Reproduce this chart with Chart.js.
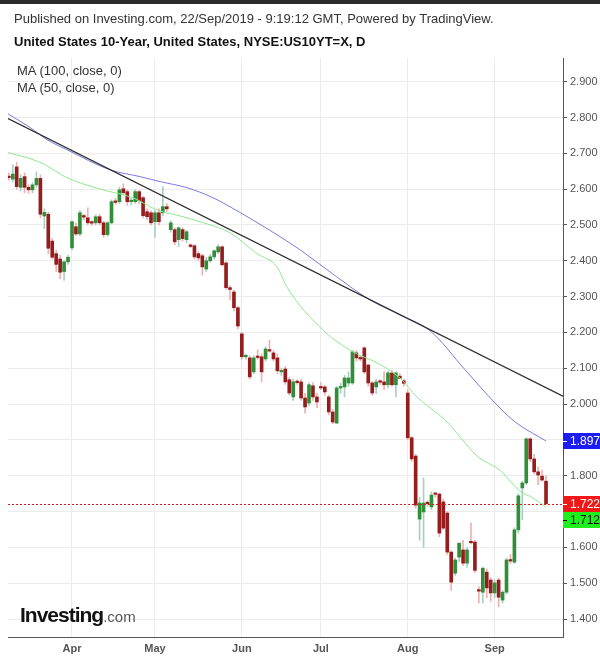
<!DOCTYPE html>
<html>
<head>
<meta charset="utf-8">
<script src="https://cdn.jsdelivr.net/npm/chart.js@4.4.0/dist/chart.umd.min.js"></script>
<style>
  html, body { margin: 0; padding: 0; background: #fff; }
  #wrap { position: relative; width: 600px; height: 660px; overflow: hidden; font-family: Arial, "Liberation Sans", sans-serif; }
  #c { position: absolute; left: 0; top: 0; }
  #topbar { position: absolute; left: 0; top: 0; width: 600px; height: 4px; background: #2b2b2b; }
  .txt { position: absolute; white-space: nowrap; line-height: 1; }
  #pub { left: 14px; top: 12px; font-size: 13px; color: #333; }
  #title { left: 14px; top: 35px; font-size: 13px; font-weight: bold; color: #111; }
  #ma100 { left: 17px; top: 64px; font-size: 13px; color: #333; }
  #ma50 { left: 17px; top: 81px; font-size: 13px; color: #333; }
  #logo { left: 20px; top: 604px; font-size: 21px; font-weight: bold; color: #111; letter-spacing: -1px; }
  #logo span { font-size: 15px; font-weight: normal; color: #555; letter-spacing: 0; }
</style>
</head>
<body>
<div id="wrap">
  <canvas id="c" width="600" height="660"></canvas>
  <div id="topbar"></div>
  <div class="txt" id="pub">Published on Investing.com, 22/Sep/2019 - 9:19:12 GMT, Powered by TradingView.</div>
  <div class="txt" id="title">United States 10-Year, United States, NYSE:US10YT=X, D</div>
  <div class="txt" id="ma100">MA (100, close, 0)</div>
  <div class="txt" id="ma50">MA (50, close, 0)</div>
  <div class="txt" id="logo">Investing<span>.com</span></div>
</div>
<script>
// trading days from 8 Mar 2019 to 20 Sep 2019, index 0..136
const monthStarts = [16, 37, 59, 79, 101, 123];
const monthLabels = ["Apr", "May", "Jun", "Jul", "Aug", "Sep"];
const yTicks = [1.4, 1.5, 1.6, 1.7, 1.8, 1.9, 2.0, 2.1, 2.2, 2.3, 2.4, 2.5, 2.6, 2.7, 2.8, 2.9];

const opens = [
  2.635, 2.628, 2.662, 2.605, 2.635, 2.605, 2.598, 2.612, 2.630, 2.525, 2.530, 2.455, 2.420, 2.405, 2.370, 2.397,
  2.436, 2.495, 2.475, 2.525, 2.520, 2.506, 2.506, 2.523, 2.506, 2.473, 2.506, 2.565, 2.565, 2.601, 2.593, 2.565, 2.565, 2.593, 2.576, 2.537, 2.534,
  2.509, 2.534, 2.534, 2.551, 2.487, 2.487, 2.459, 2.487, 2.459, 2.442, 2.442, 2.420, 2.414, 2.377, 2.400, 2.411, 2.425, 2.439, 2.394, 2.325, 2.313, 2.269,
  2.196, 2.132, 2.129, 2.090, 2.132, 2.132, 2.126, 2.150, 2.143, 2.129, 2.090, 2.098, 2.068, 2.020, 2.062, 2.062, 2.017, 2.003, 2.051, 2.020,
  2.048, 2.048, 2.020, 1.978, 1.947, 2.045, 2.048, 2.059, 2.059, 2.143, 2.129, 2.157, 2.109, 2.059, 2.048, 2.062, 2.062, 2.054, 2.087, 2.054, 2.078, 2.065,
  2.031, 1.906, 1.855, 1.679, 1.699, 1.724, 1.713, 1.749, 1.749, 1.727, 1.696, 1.587, 1.528, 1.573, 1.593, 1.556, 1.615, 1.615, 1.481, 1.475, 1.531, 1.509,
  1.473, 1.509, 1.453, 1.475, 1.565, 1.559, 1.649, 1.766, 1.780, 1.903, 1.847, 1.811, 1.799, 1.785
];
const highs = [
  2.645, 2.668, 2.675, 2.640, 2.645, 2.612, 2.618, 2.648, 2.640, 2.545, 2.535, 2.462, 2.430, 2.415, 2.400, 2.415,
  2.512, 2.505, 2.540, 2.530, 2.548, 2.512, 2.528, 2.530, 2.510, 2.510, 2.570, 2.575, 2.605, 2.615, 2.598, 2.575, 2.598, 2.596, 2.580, 2.545, 2.540,
  2.540, 2.545, 2.607, 2.560, 2.512, 2.492, 2.495, 2.492, 2.485, 2.448, 2.445, 2.425, 2.418, 2.410, 2.418, 2.430, 2.445, 2.442, 2.398, 2.330, 2.318, 2.272,
  2.200, 2.140, 2.135, 2.135, 2.151, 2.140, 2.160, 2.179, 2.150, 2.140, 2.100, 2.105, 2.075, 2.070, 2.068, 2.070, 2.030, 2.060, 2.060, 2.030,
  2.060, 2.052, 2.025, 1.985, 2.050, 2.058, 2.080, 2.090, 2.150, 2.150, 2.135, 2.160, 2.112, 2.063, 2.070, 2.068, 2.090, 2.092, 2.095, 2.090, 2.085, 2.070,
  2.040, 1.910, 1.860, 1.740, 1.794, 1.730, 1.755, 1.752, 1.752, 1.735, 1.700, 1.590, 1.570, 1.610, 1.620, 1.600, 1.668, 1.620, 1.490, 1.545, 1.540, 1.515,
  1.510, 1.515, 1.480, 1.570, 1.580, 1.655, 1.750, 1.785, 1.906, 1.906, 1.860, 1.825, 1.815, 1.800
];
const lows = [
  2.625, 2.620, 2.600, 2.595, 2.590, 2.588, 2.590, 2.605, 2.520, 2.490, 2.420, 2.405, 2.370, 2.350, 2.345, 2.390,
  2.430, 2.470, 2.470, 2.515, 2.500, 2.498, 2.500, 2.500, 2.465, 2.468, 2.503, 2.558, 2.560, 2.585, 2.555, 2.555, 2.560, 2.560, 2.520, 2.515, 2.500,
  2.465, 2.500, 2.525, 2.538, 2.480, 2.445, 2.440, 2.455, 2.450, 2.436, 2.405, 2.400, 2.360, 2.370, 2.396, 2.405, 2.420, 2.385, 2.320, 2.291, 2.260, 2.210,
  2.125, 2.125, 2.070, 2.085, 2.125, 2.062, 2.120, 2.145, 2.120, 2.085, 2.080, 2.055, 2.025, 2.010, 2.055, 2.010, 1.975, 1.995, 2.010, 1.990,
  2.040, 2.025, 1.970, 1.945, 1.945, 2.030, 2.020, 2.050, 2.055, 2.120, 2.120, 2.085, 2.050, 2.025, 2.030, 2.055, 2.040, 2.045, 2.050, 2.020, 2.070, 2.050,
  1.900, 1.840, 1.710, 1.620, 1.600, 1.715, 1.705, 1.740, 1.630, 1.650, 1.580, 1.480, 1.522, 1.560, 1.550, 1.545, 1.610, 1.530, 1.445, 1.445, 1.460, 1.450,
  1.460, 1.434, 1.445, 1.470, 1.555, 1.555, 1.640, 1.677, 1.775, 1.840, 1.805, 1.775, 1.785, 1.720
];
const closes = [
  2.632, 2.642, 2.607, 2.630, 2.605, 2.598, 2.612, 2.630, 2.530, 2.535, 2.435, 2.410, 2.390, 2.368, 2.397, 2.410,
  2.509, 2.475, 2.534, 2.522, 2.506, 2.505, 2.523, 2.506, 2.473, 2.506, 2.565, 2.563, 2.598, 2.590, 2.565, 2.567, 2.593, 2.568, 2.526, 2.523, 2.506,
  2.534, 2.509, 2.551, 2.545, 2.506, 2.453, 2.492, 2.462, 2.481, 2.440, 2.411, 2.408, 2.383, 2.400, 2.411, 2.428, 2.439, 2.389, 2.325, 2.320, 2.269, 2.218,
  2.132, 2.135, 2.076, 2.129, 2.130, 2.090, 2.154, 2.148, 2.126, 2.093, 2.092, 2.062, 2.031, 2.062, 2.060, 2.017, 1.992, 2.054, 2.020, 2.006,
  2.045, 2.034, 1.978, 1.950, 2.045, 2.048, 2.073, 2.073, 2.146, 2.129, 2.126, 2.090, 2.059, 2.031, 2.062, 2.061, 2.054, 2.087, 2.054, 2.087, 2.072, 2.058,
  1.906, 1.847, 1.718, 1.724, 1.724, 1.722, 1.746, 1.748, 1.640, 1.654, 1.587, 1.503, 1.565, 1.612, 1.556, 1.593, 1.613, 1.536, 1.478, 1.542, 1.487, 1.473,
  1.501, 1.461, 1.475, 1.565, 1.562, 1.649, 1.744, 1.780, 1.903, 1.847, 1.811, 1.802, 1.788, 1.722
];

// moving averages at sample points (x = trading-day index)
const ma50X = [-0.2, 7.9, 14.7, 23.1, 31.4, 37.5, 44.1, 48.4, 56, 62.8, 67.9, 70.4, 79.5, 87.1, 93.2, 99, 103.3, 110.4, 118.8, 124.4, 129.4, 132.7, 136];
const ma50Y = [2.702, 2.675, 2.632, 2.600, 2.576, 2.542, 2.523, 2.509, 2.478, 2.420, 2.383, 2.327, 2.207, 2.146, 2.115, 2.073, 2.020, 1.956, 1.853, 1.815, 1.757, 1.738, 1.712];
const ma100X = [-0.2, 5.4, 9.7, 14.7, 25.6, 33.2, 38.3, 45.1, 51.7, 58.5, 66.1, 73.7, 81.3, 91.4, 99, 106.6, 115.5, 123.1, 128.2, 136];
const ma100Y = [2.810, 2.772, 2.738, 2.710, 2.654, 2.635, 2.621, 2.604, 2.576, 2.535, 2.485, 2.431, 2.369, 2.291, 2.249, 2.205, 2.096, 2.003, 1.950, 1.897];
const trendX = [-0.2, 140.3];
const trendY = [2.797, 2.022];

const xMin = -0.2, xMax = 140.3;

const up = closes.map((c, i) => c >= opens[i]);
const bodies = closes.map((c, i) => ({ x: i, y: [opens[i], c] }));
const wicks = closes.map((c, i) => ({ x: i, y: [lows[i], highs[i]] }));
const toPts = (xs, ys) => xs.map((x, i) => ({ x: x, y: ys[i] }));

const lastClose = closes[closes.length - 1];

// right-hand value tags + dotted last price line
const priceTags = {
  id: "priceTags",
  afterDatasetsDraw(chart) {
    const { ctx, chartArea } = chart;
    const y = chart.scales.y.getPixelForValue(lastClose);
    ctx.save();
    ctx.strokeStyle = "#e31c1c";
    ctx.lineWidth = 1;
    ctx.setLineDash([2, 2]);
    ctx.beginPath();
    ctx.moveTo(chartArea.left, Math.round(y) + 0.5);
    ctx.lineTo(chartArea.right, Math.round(y) + 0.5);
    ctx.stroke();
    ctx.restore();
  },
  afterDraw(chart) {
    const { ctx, chartArea } = chart;
    const ys = chart.scales.y;
    const tags = [
      { v: ma100Y[ma100Y.length - 1], bg: "#1c1cf5", fg: "#fff" },
      { v: lastClose, bg: "#f21818", fg: "#fff" },
      { v: ma50Y[ma50Y.length - 1], bg: "#1ef01e", fg: "#111" }
    ].map(t => ({ ...t, y: ys.getPixelForValue(t.v) }));
    tags.sort((a, b) => a.y - b.y);
    const h = 16;
    for (let i = 1; i < tags.length; i++) {
      if (tags[i].y < tags[i - 1].y + h) tags[i].y = tags[i - 1].y + h;
    }
    ctx.save();
    tags.forEach(t => {
      ctx.fillStyle = t.bg;
      ctx.fillRect(chartArea.right, Math.round(t.y - h / 2), 600 - chartArea.right, h);
      ctx.fillStyle = t.fg;
      ctx.fillRect(chartArea.right, Math.round(t.y), 4, 1);
      ctx.font = "12px Arial, 'Liberation Sans', sans-serif";
      ctx.textBaseline = "middle";
      ctx.textAlign = "left";
      ctx.fillText(t.v.toFixed(3), chartArea.right + 7, t.y + 0.5);
    });
    ctx.restore();
  }
};

Chart.defaults.font.family = "Arial, 'Liberation Sans', sans-serif";

new Chart(document.getElementById("c"), {
  type: "bar",
  data: {
    datasets: [
      {
        type: "line", data: toPts(trendX, trendY), borderColor: "#2a2a2a", borderWidth: 1.3,
        pointRadius: 0, order: 0
      },
      {
        type: "line", data: toPts(ma100X, ma100Y), borderColor: "#7a7ae0", borderWidth: 1,
        pointRadius: 0, cubicInterpolationMode: "monotone", order: 1
      },
      {
        type: "line", data: toPts(ma50X, ma50Y), borderColor: "#8ee88e", borderWidth: 1,
        pointRadius: 0, cubicInterpolationMode: "monotone", order: 1
      },
      {
        data: bodies, backgroundColor: up.map(u => u ? "#2f8f38" : "#961d1d"),
        barThickness: 3, minBarLength: 1.5, grouped: false, order: 2
      },
      {
        data: wicks, backgroundColor: up.map(u => u ? "#a9cfc2" : "#efb0b0"),
        barThickness: 1, grouped: false, order: 3
      }
    ]
  },
  options: {
    responsive: false,
    animation: false,
    devicePixelRatio: 1,
    layout: { padding: { left: 8, top: 58, right: 0, bottom: 0 } },
    plugins: { legend: { display: false }, tooltip: { enabled: false } },
    scales: {
      x: {
        type: "linear", min: xMin, max: xMax, offset: false,
        grid: { color: "#ececec", drawTicks: false, offset: false },
        border: { color: "#555" },
        afterBuildTicks: s => { s.ticks = monthStarts.map(v => ({ value: v })); },
        afterFit: s => { s.height = 23; },
        ticks: {
          autoSkip: false, maxRotation: 0, padding: 5, color: "#555",
          font: { size: 11, weight: "bold" },
          callback: v => monthLabels[monthStarts.indexOf(v)]
        }
      },
      y: {
        type: "linear", position: "right", min: 1.35, max: 2.966,
        grid: { color: "#ececec", tickColor: "#555", tickLength: 4 },
        border: { color: "#555" },
        afterBuildTicks: s => { s.ticks = yTicks.map(v => ({ value: v })); },
        afterFit: s => { s.width = 37; },
        ticks: { padding: 3, color: "#555", font: { size: 11 }, callback: v => v.toFixed(3) }
      }
    }
  },
  plugins: [priceTags]
});
</script>
</body>
</html>
